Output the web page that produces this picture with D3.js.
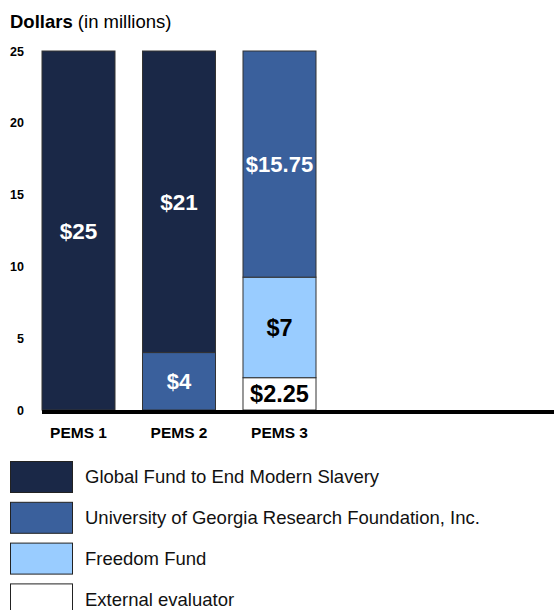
<!DOCTYPE html>
<html>
<head>
<meta charset="utf-8">
<script src="https://cdn.jsdelivr.net/npm/d3@7"></script>
<style>
  body { margin: 0; background: #fff; }
  svg { font-family: "Liberation Sans", Arial, sans-serif; display: block; }
</style>
</head>
<body>
<svg width="554" height="610"></svg>
<script>
// data
var categories = ['PEMS 1', 'PEMS 2', 'PEMS 3'];
var globalFund = [25, 21, 0];
var ugaFoundation = [0, 4, 15.75];
var freedomFund = [0, 0, 7];
var evaluator = [0, 0, 2.25];
var yTicks = [0, 5, 10, 15, 20, 25];

var seriesNames = ['Global Fund to End Modern Slavery', 'University of Georgia Research Foundation, Inc.', 'Freedom Fund', 'External evaluator'];
var colors = ['#1a2847', '#3a609c', '#99ccff', '#ffffff'];
var labelColors = ['#fff', '#fff', '#000', '#000'];
var labelSizes = [22.5, 22, 23.5, 23.5];

var svg = d3.select('svg');

// rows for the stack (bottom-up: evaluator, freedom, uga, global)
var keys = ['evaluator', 'freedom', 'uga', 'global'];
var rows = categories.map(function(c, i) {
  return {cat: c, global: globalFund[i], uga: ugaFoundation[i], freedom: freedomFund[i], evaluator: evaluator[i]};
});
var keyIndex = {global: 0, uga: 1, freedom: 2, evaluator: 3};

var stacked = d3.stack().keys(keys)(rows);

var xScale = d3.scaleBand().domain(categories).range([28.25, 329.75]).paddingInner(0.2736).paddingOuter(0.1368);
var yScale = d3.scaleLinear().domain([0, 25]).range([410, 51]);

// title
var title = svg.append('text').attr('x', 10).attr('y', 28).style('font-size', '18.5px');
title.append('tspan').style('font-weight', 'bold').text('Dollars');
title.append('tspan').text(' (in millions)');

// y axis (labels only)
var yAxis = d3.axisLeft(yScale).tickValues(yTicks).tickSize(0).tickPadding(0);
var yG = svg.append('g').attr('transform', 'translate(24,0)').call(yAxis);
yG.select('.domain').remove();
yG.selectAll('text')
  .style('font-family', '"Liberation Sans", Arial, sans-serif')
  .style('font-size', '12.5px')
  .style('font-weight', 'bold')
  .attr('fill', '#000');

// bars
var layers = svg.append('g').selectAll('g')
  .data(stacked)
  .enter()
  .append('g');

var segs = function(s) {
  return s.map(function(d) { return {key: s.key, d: d}; })
    .filter(function(o) { return o.d[1] - o.d[0] > 0; });
};

layers.selectAll('rect')
  .data(segs)
  .enter()
  .append('rect')
  .attr('x', function(o) { return xScale(o.d.data.cat); })
  .attr('y', function(o) { return yScale(o.d[1]); })
  .attr('width', xScale.bandwidth())
  .attr('height', function(o) { return yScale(o.d[0]) - yScale(o.d[1]); })
  .attr('fill', function(o) { return colors[keyIndex[o.key]]; })
  .attr('stroke', '#333')
  .attr('stroke-width', 1);

// bar labels
layers.selectAll('text')
  .data(segs)
  .enter()
  .append('text')
  .attr('x', function(o) { return xScale(o.d.data.cat) + xScale.bandwidth() / 2; })
  .attr('y', function(o) { return (yScale(o.d[0]) + yScale(o.d[1])) / 2; })
  .attr('dy', '0.36em')
  .attr('text-anchor', 'middle')
  .style('font-size', function(o) { return labelSizes[keyIndex[o.key]] + 'px'; })
  .style('font-weight', 'bold')
  .attr('fill', function(o) { return labelColors[keyIndex[o.key]]; })
  .text(function(o) { return '$' + (o.d[1] - o.d[0]); });

// baseline
svg.append('line')
  .attr('x1', xScale('PEMS 1')).attr('x2', 554)
  .attr('y1', yScale(0) + 2).attr('y2', yScale(0) + 2)
  .attr('stroke', '#000').attr('stroke-width', 4);

// x axis labels
var xAxis = d3.axisBottom(xScale).tickSize(0).tickPadding(0);
var xG = svg.append('g').attr('transform', 'translate(0,427)').call(xAxis);
xG.select('.domain').remove();
xG.selectAll('text')
  .style('font-family', '"Liberation Sans", Arial, sans-serif')
  .style('font-size', '15.5px')
  .style('font-weight', 'bold')
  .attr('fill', '#000');

// legend
var legend = svg.append('g').selectAll('g')
  .data(seriesNames)
  .enter()
  .append('g')
  .attr('transform', function(d, i) { return 'translate(10,' + (461 + i * 40.8) + ')'; });

legend.append('rect')
  .attr('x', 0.5).attr('y', 0.5)
  .attr('width', 62).attr('height', 31)
  .attr('fill', function(d, i) { return colors[i]; })
  .attr('stroke', '#222').attr('stroke-width', 1);

legend.append('text')
  .attr('x', 75).attr('y', 16)
  .attr('dy', '0.35em')
  .style('font-size', '18.5px')
  .attr('fill', '#111')
  .text(function(d) { return d; });
</script>
</body>
</html>
